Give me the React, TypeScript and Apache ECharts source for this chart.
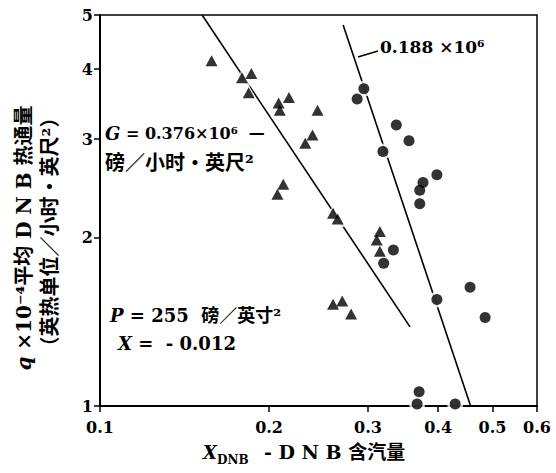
import React, { useEffect, useRef } from "react";
import * as echarts from "echarts";

// Axis tick values (log scales)
const xTickValues = [0.1, 0.2, 0.3, 0.4, 0.5, 0.6];
const yTickValues = [1, 2, 3, 4, 5];

// G = 0.376×10⁶ lb/hr·ft² — triangles (DNB quality, heat flux ×10⁻⁴)
const highFlowQuality = [0.158, 0.179, 0.186, 0.184, 0.208, 0.209, 0.217, 0.244, 0.239, 0.232, 0.212, 0.207, 0.26, 0.265, 0.315, 0.311, 0.315, 0.26, 0.27, 0.28];
const highFlowHeatFlux = [4.14, 3.86, 3.93, 3.63, 3.48, 3.38, 3.56, 3.38, 3.05, 2.95, 2.49, 2.39, 2.21, 2.16, 2.05, 1.98, 1.89, 1.52, 1.54, 1.46];

// G = 0.188×10⁶ lb/hr·ft² — circles
const lowFlowQuality = [0.295, 0.287, 0.337, 0.355, 0.319, 0.398, 0.376, 0.371, 0.371, 0.333, 0.32, 0.456, 0.398, 0.485, 0.37, 0.367, 0.429];
const lowFlowHeatFlux = [3.69, 3.54, 3.18, 2.98, 2.85, 2.59, 2.51, 2.43, 2.3, 1.9, 1.8, 1.63, 1.55, 1.44, 1.06, 1.008, 1.008];

// Correlation lines for each mass flux
const highFitQuality = [0.152, 0.3565];
const highFitHeatFlux = [5.0, 1.385];
const lowFitQuality = [0.271, 0.457];
const lowFitHeatFlux = [4.8, 1.0];

const pairs = (xs: number[], ys: number[]) => xs.map((x, i) => [x, ys[i]]);

const SERIF = "'DejaVu Serif', 'Noto Sans CJK SC', serif";
const CJK = "'DejaVu Serif', 'Noto Sans CJK SC', sans-serif";

const label = (x: number, y: number, text: string, fontSize: number, extra: any = {}) => ({
  type: "text",
  x,
  y,
  z: 20,
  silent: true,
  style: {
    text,
    fontSize,
    fontWeight: "bold",
    fontFamily: CJK,
    fill: "#000",
    align: "left",
    verticalAlign: "middle",
    ...extra,
  },
});

const italic = (size: number) => ({
  fontStyle: "italic",
  fontWeight: "bold",
  fontFamily: SERIF,
  fontSize: size,
  fill: "#000",
});

export default function App() {
  const ref = useRef<HTMLDivElement>(null);

  useEffect(() => {
    if (!ref.current) return;
    const chart = echarts.init(ref.current, undefined, { renderer: "svg" });

    const axisCommon = {
      type: "log",
      logBase: 10,
      axisLine: { show: true, lineStyle: { color: "#000", width: 2 } },
      splitLine: { show: false },
      minorTick: { show: false },
      minorSplitLine: { show: false },
    };

    chart.setOption({
      animation: false,
      backgroundColor: "#fff",
      grid: {
        left: 100,
        right: 19,
        top: 15,
        bottom: 67,
        show: true,
        borderColor: "#000",
        borderWidth: 1.5,
        outerBoundsMode: "none",
      },
      xAxis: {
        ...axisCommon,
        min: 0.1,
        max: 0.6,
        axisTick: { show: true, customValues: xTickValues, length: 6, lineStyle: { color: "#000", width: 1.5 } },
        axisLabel: {
          customValues: xTickValues,
          formatter: (v: number) => v.toFixed(1),
          color: "#000",
          fontFamily: SERIF,
          fontWeight: "bold",
          fontSize: 16,
          margin: 13,
        },
      },
      yAxis: {
        ...axisCommon,
        min: 1,
        max: 5,
        axisTick: { show: true, customValues: yTickValues, length: 6, lineStyle: { color: "#000", width: 1.5 } },
        axisLabel: {
          customValues: yTickValues,
          formatter: (v: number) => String(Math.round(v)),
          color: "#000",
          fontFamily: SERIF,
          fontWeight: "bold",
          fontSize: 16,
          margin: 7,
        },
      },
      series: [
        {
          type: "line",
          data: pairs(highFitQuality, highFitHeatFlux),
          symbol: "none",
          lineStyle: { color: "#000", width: 1.6 },
          z: 2,
          silent: true,
        },
        {
          type: "line",
          data: pairs(lowFitQuality, lowFitHeatFlux),
          symbol: "none",
          lineStyle: { color: "#000", width: 1.6 },
          z: 2,
          silent: true,
        },
        // white halos so the lines break around the markers
        {
          type: "scatter",
          data: pairs(highFlowQuality, highFlowHeatFlux),
          symbol: "triangle",
          symbolSize: [17, 16],
          itemStyle: { color: "#fff" },
          z: 3,
          clip: false,
          silent: true,
        },
        {
          type: "scatter",
          data: pairs(lowFlowQuality, lowFlowHeatFlux),
          symbol: "circle",
          symbolSize: 16,
          itemStyle: { color: "#fff" },
          z: 3,
          clip: false,
          silent: true,
        },
        {
          type: "scatter",
          data: pairs(highFlowQuality, highFlowHeatFlux),
          symbol: "triangle",
          symbolSize: [12, 11],
          itemStyle: { color: "#000" },
          z: 4,
          clip: false,
        },
        {
          type: "scatter",
          data: pairs(lowFlowQuality, lowFlowHeatFlux),
          symbol: "circle",
          symbolSize: 11,
          itemStyle: { color: "#000" },
          z: 4,
          clip: false,
        },
      ],
      graphic: [
        // y-axis title, two rotated lines
        {
          type: "text",
          x: 24,
          y: 238,
          rotation: Math.PI / 2,
          silent: true,
          style: {
            text: "{it|q} ×10⁻⁴平均 D N B 热通量",
            fontSize: 20,
            fontWeight: "bold",
            fontFamily: CJK,
            fill: "#000",
            align: "center",
            verticalAlign: "middle",
            rich: { it: italic(20) },
          },
        },
        {
          type: "text",
          x: 50,
          y: 232,
          rotation: Math.PI / 2,
          silent: true,
          style: {
            text: "（英热单位／小时・英尺²）",
            fontSize: 20,
            fontWeight: "bold",
            fontFamily: CJK,
            fill: "#000",
            align: "center",
            verticalAlign: "middle",
          },
        },
        // x-axis title
        label(203, 452, "X", 18, { fontStyle: "italic", fontFamily: SERIF }),
        label(217, 460, "DNB", 12, { fontFamily: SERIF }),
        label(264, 452, "- D N B 含汽量", 19),
        // annotations
        label(105, 133, "{it|G} = 0.376×10⁶  —", 16, { rich: { it: italic(18) }, fontFamily: SERIF }),
        label(105, 163, "磅／小时・英尺²", 20),
        label(110, 315, "{it|P} = 255  磅／英寸²", 18, { rich: { it: italic(18) } }),
        label(118, 343, "{it|X} =  - 0.012", 18, { rich: { it: italic(18) }, fontFamily: SERIF }),
        label(380, 47, "0.188 ×10⁶", 17, { fontFamily: SERIF }),
        {
          type: "line",
          silent: true,
          z: 20,
          shape: { x1: 358, y1: 57, x2: 378, y2: 51 },
          style: { stroke: "#000", lineWidth: 1.5 },
        },
      ],
    });

    return () => chart.dispose();
  }, []);

  return (
    <div
      ref={ref}
      style={{ position: "fixed", left: 0, top: 0, width: 556, height: 473, background: "#fff" }}
    />
  );
}
